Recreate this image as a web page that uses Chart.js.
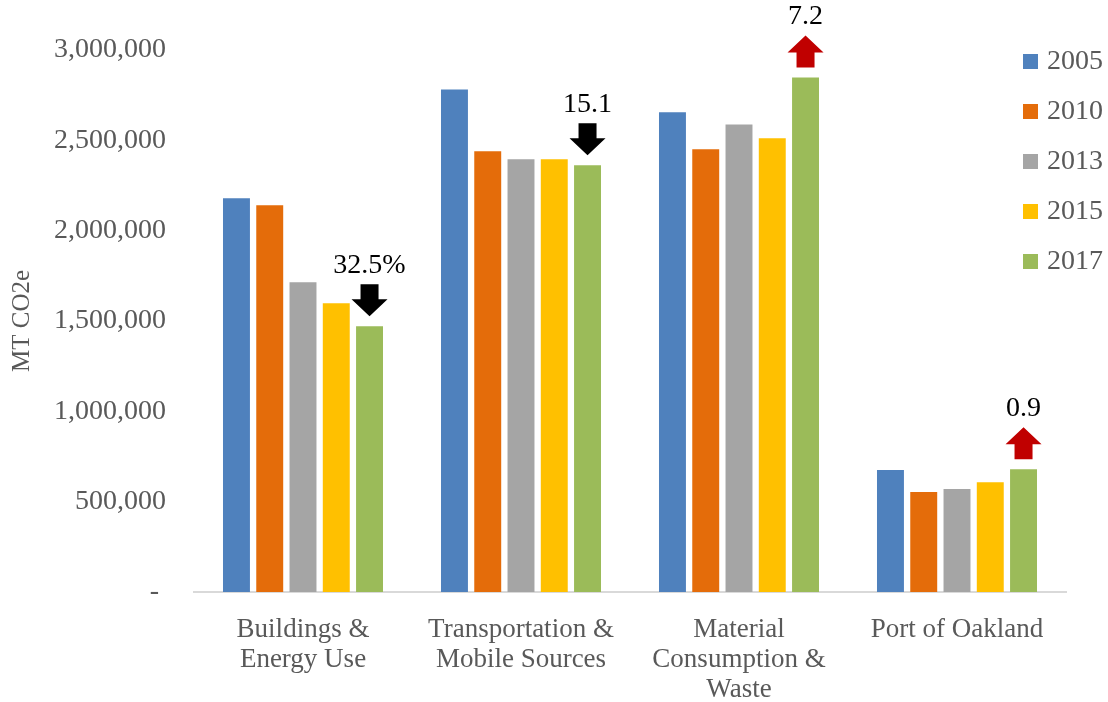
<!DOCTYPE html>
<html>
<head>
<meta charset="utf-8">
<script src="https://cdn.jsdelivr.net/npm/chart.js@4/dist/chart.umd.min.js"></script>
<style>
  body { margin: 0; background: #fff; }
</style>
</head>
<body>
<canvas id="myChart" width="1108" height="702"></canvas>
<script>
// categories and series
const categorias = [
    ["Buildings &", "Energy Use"],
    ["Transportation &", "Mobile Sources"],
    ["Material", "Consumption &", "Waste"],
    ["Port of Oakland"]
]
const anios = ["2005", "2010", "2013", "2015", "2017"]
const datos2005 = [2179000, 2782000, 2655000, 675000]
const datos2010 = [2140000, 2439000, 2450000, 553000]
const datos2013 = [1715000, 2395000, 2588000, 570000]
const datos2015 = [1598000, 2395000, 2511000, 608000]
const datos2017 = [1471000, 2362000, 2848000, 680000]
const colores = ["#4F81BD", "#E46C0A", "#A5A5A5", "#FFC000", "#9BBB59"]

// change labels over the 2017 bars
const etiquetasCambio = ["32.5%", "15.1", "7.2", "0.9"]
const direccionCambio = ["down", "down", "up", "up"]

const fuente = "'Liberation Serif', 'Times New Roman', serif"
const gris = "#595959"

const series = [datos2005, datos2010, datos2013, datos2015, datos2017]

const flechas = {
    id: "flechas",
    afterDatasetsDraw(chart) {
        const ctx = chart.ctx
        const meta = chart.getDatasetMeta(4)
        meta.data.forEach(function(barra, i) {
            const x = barra.x
            const baseY = barra.y - 10
            const largo = 32, cabeza = 17, anchoCab = 18, anchoTallo = 9
            ctx.save()
            ctx.beginPath()
            if (direccionCambio[i] == "down") {
                ctx.fillStyle = "#000000"
                const punta = baseY
                const arriba = punta - largo
                ctx.moveTo(x - anchoTallo, arriba)
                ctx.lineTo(x + anchoTallo, arriba)
                ctx.lineTo(x + anchoTallo, punta - cabeza)
                ctx.lineTo(x + anchoCab, punta - cabeza)
                ctx.lineTo(x, punta)
                ctx.lineTo(x - anchoCab, punta - cabeza)
                ctx.lineTo(x - anchoTallo, punta - cabeza)
            } else {
                ctx.fillStyle = "#C00000"
                const abajo = baseY
                const punta = abajo - largo
                ctx.moveTo(x - anchoTallo, abajo)
                ctx.lineTo(x + anchoTallo, abajo)
                ctx.lineTo(x + anchoTallo, punta + cabeza)
                ctx.lineTo(x + anchoCab, punta + cabeza)
                ctx.lineTo(x, punta)
                ctx.lineTo(x - anchoCab, punta + cabeza)
                ctx.lineTo(x - anchoTallo, punta + cabeza)
            }
            ctx.closePath()
            ctx.fill()
            ctx.fillStyle = "#000000"
            ctx.font = "28px " + fuente
            ctx.textAlign = "center"
            ctx.textBaseline = "alphabetic"
            ctx.fillText(etiquetasCambio[i], x, baseY - largo - 11)
            ctx.restore()
        })
    }
}

const leyenda = {
    id: "leyenda",
    afterDraw(chart) {
        const ctx = chart.ctx
        ctx.save()
        anios.forEach(function(anio, i) {
            const y = 61 + i * 50
            ctx.fillStyle = colores[i]
            ctx.fillRect(1023, y - 7, 15, 15)
            ctx.fillStyle = gris
            ctx.font = "28px " + fuente
            ctx.textAlign = "left"
            ctx.textBaseline = "middle"
            ctx.fillText(anio, 1047, y + 1)
        })
        ctx.restore()
    }
}

const data = {
    labels: categorias,
    datasets: anios.map(function(anio, i) {
        return {
            label: anio,
            data: series[i],
            backgroundColor: colores[i],
            barPercentage: 0.81,
            categoryPercentage: 0.763
        }
    })
}

const config = {
    type: "bar",
    data: data,
    options: {
        responsive: false,
        animation: false,
        layout: { padding: { top: 50, right: 42, left: 0, bottom: 0 } },
        plugins: {
            legend: { display: false },
            tooltip: { enabled: false }
        },
        scales: {
            x: {
                grid: { display: false, drawTicks: false },
                border: { display: true, color: "#d9d9d9", width: 2 },
                ticks: {
                    color: gris,
                    font: { family: fuente, size: 27, lineHeight: 1.11 },
                    padding: 23,
                    maxRotation: 0,
                    autoSkip: false
                },
                afterFit: function(s) { s.height = 110 }
            },
            y: {
                min: 0,
                max: 3000000,
                grid: { display: false, drawTicks: false },
                border: { display: false },
                ticks: {
                    stepSize: 500000,
                    color: gris,
                    font: { family: fuente, size: 28 },
                    padding: 28,
                    callback: function(v) {
                        if (v == 0) return "- "
                        return v.toLocaleString("en-US")
                    }
                },
                title: {
                    display: true,
                    text: "MT CO2e",
                    color: gris,
                    font: { family: fuente, size: 25 },
                    padding: { top: 7, bottom: 0 }
                },
                afterFit: function(s) { s.width = 194 }
            }
        }
    },
    plugins: [flechas, leyenda]
}

var ctx = document.getElementById("myChart").getContext("2d")
var myChart = new Chart(ctx, config)
</script>
</body>
</html>
